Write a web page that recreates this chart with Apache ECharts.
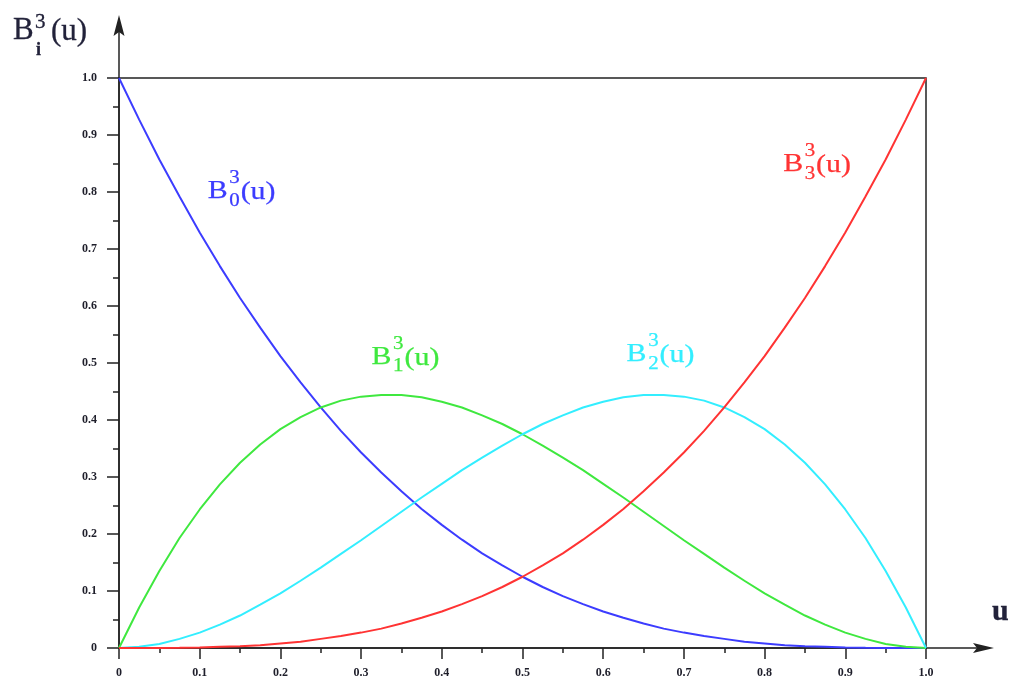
<!DOCTYPE html>
<html><head><meta charset="utf-8">
<script src="https://cdn.jsdelivr.net/npm/echarts@6/dist/echarts.min.js"></script>
<style>html,body{margin:0;padding:0;background:#fff}#c{width:1010px;height:687px}</style>
</head><body><div id="c"></div>
<script>
// ---- data ----
const uValues = [0,0.025,0.05,0.075,0.1,0.125,0.15,0.175,0.2,0.225,0.25,0.275,0.3,0.325,0.35,0.375,0.4,0.425,0.45,0.475,0.5,
                 0.525,0.55,0.575,0.6,0.625,0.65,0.675,0.7,0.725,0.75,0.775,0.8,0.825,0.85,0.875,0.9,0.925,0.95,0.975,1];
const b0 = [1,0.927,0.857,0.792,0.729,0.670,0.614,0.562,0.512,0.466,0.422,0.381,0.343,0.308,0.275,0.244,0.216,0.190,0.166,0.145,0.125,
            0.107,0.091,0.077,0.064,0.053,0.043,0.034,0.027,0.021,0.016,0.011,0.008,0.005,0.003,0.002,0.001,0.0004,0.0001,0,0];
const b1 = [0,0.071,0.135,0.193,0.243,0.287,0.325,0.357,0.384,0.405,0.422,0.434,0.441,0.444,0.444,0.440,0.432,0.422,0.408,0.393,0.375,
            0.355,0.334,0.312,0.288,0.264,0.239,0.214,0.189,0.165,0.141,0.118,0.096,0.076,0.057,0.041,0.027,0.016,0.007,0.002,0];
const b2 = [0,0.002,0.007,0.016,0.027,0.041,0.057,0.076,0.096,0.118,0.141,0.165,0.189,0.214,0.239,0.264,0.288,0.312,0.334,0.355,0.375,
            0.393,0.408,0.422,0.432,0.440,0.444,0.444,0.441,0.434,0.422,0.405,0.384,0.357,0.325,0.287,0.243,0.193,0.135,0.071,0];
const b3 = [0,0,0.0001,0.0004,0.001,0.002,0.003,0.005,0.008,0.011,0.016,0.021,0.027,0.034,0.043,0.053,0.064,0.077,0.091,0.107,0.125,
            0.145,0.166,0.190,0.216,0.244,0.275,0.308,0.343,0.381,0.422,0.466,0.512,0.562,0.614,0.670,0.729,0.792,0.857,0.927,1];
const seriesNames = ['0','1','2','3'];
const seriesColors = ['#3c3cff','#3fe83f','#33eeff','#ff3333'];
const labelPos = [[0.110,0.802],[0.313,0.511],[0.629,0.516],[0.823,0.849]];
const axisTitleY = {base:'B', sup:'3', sub:'i', tail:'(u)'};
const axisTitleX = 'u';

const G = {left:119, right:84, top:78, bottom:39};
const chart = echarts.init(document.getElementById('c'));
const values = [b0,b1,b2,b3];
const fmt = v => v === 0 ? '0' : v.toFixed(1);
const labelFont = {fontFamily:'Liberation Serif', fontWeight:'bold', fontSize:12, color:'#1e1e2a'};

chart.setOption({
  animation:false,
  grid:{left:G.left,right:G.right,top:G.top,bottom:G.bottom,show:true,borderColor:'#222',borderWidth:1.5,backgroundColor:'transparent'},
  xAxis:{type:'value',min:0,max:1,interval:0.1,
    axisLine:{lineStyle:{color:'#222',width:1.5}},
    axisTick:{length:11,lineStyle:{color:'#222',width:1.5}},
    minorTick:{show:true,splitNumber:2,length:5,lineStyle:{color:'#222',width:1.5}},
    splitLine:{show:false},
    axisLabel:Object.assign({margin:19,formatter:fmt},labelFont)},
  yAxis:{type:'value',min:0,max:1,interval:0.1,
    axisLine:{show:true,lineStyle:{color:'#222',width:1.5}},
    axisTick:{show:true,length:12,lineStyle:{color:'#222',width:1.5}},
    minorTick:{show:true,splitNumber:2,length:6,lineStyle:{color:'#222',width:1.5}},
    splitLine:{show:false},
    axisLabel:Object.assign({margin:22,formatter:fmt},labelFont)},
  series: values.map((arr,i)=>({
    type:'line', name:'B'+seriesNames[i], smooth:false, showSymbol:false, z:3,
    data: uValues.map((u,k)=>[u,arr[k]]),
    lineStyle:{color:seriesColors[i],width:2}
  }))
});

function txt(x,y,text,fs,color,extra){
  return {type:'text',x:x,y:y,style:Object.assign({text:text,fontFamily:'Liberation Serif',fontSize:fs,fill:color,
    stroke:color,lineWidth:0.25,verticalAlign:'middle',align:'left'},extra||{})};
}
function bLabel(x,y,sub,color,fs,sx){
  return {type:'group',x:x,y:y,scaleX:sx,children:[
    txt(0,0,'B',fs,color),
    txt(fs*0.72,-fs*0.5,'3',fs*0.7,color),
    txt(fs*0.72,fs*0.38,sub,fs*0.7,color),
    txt(fs*1.1,fs*0.05,'(u)',fs,color)
  ]};
}

const p00 = chart.convertToPixel({gridIndex:0},[0,0]);
const p11 = chart.convertToPixel({gridIndex:0},[1,1]);
const graphics = [];
graphics.push({type:'line',shape:{x1:p00[0],y1:p11[1],x2:p00[0],y2:30},style:{stroke:'#222',lineWidth:1.5}});
graphics.push({type:'polygon',shape:{points:[[p00[0],15],[p00[0]-5.5,36],[p00[0],32],[p00[0]+5.5,36]]},style:{fill:'#222'}});
graphics.push({type:'line',shape:{x1:p11[0],y1:p00[1],x2:985,y2:p00[1]},style:{stroke:'#222',lineWidth:1.5}});
graphics.push({type:'polygon',shape:{points:[[994,p00[1]],[973,p00[1]-5],[977,p00[1]],[973,p00[1]+5]]},style:{fill:'#222'}});
labelPos.forEach((p,i)=>{
  const px = chart.convertToPixel({gridIndex:0},p);
  graphics.push(bLabel(px[0],px[1],seriesNames[i],seriesColors[i],26,1.15));
});
const tc = '#22223a';
graphics.push({type:'group',x:13,y:31,children:[
  txt(0,0,axisTitleY.base,31,tc,{lineWidth:0.3}),
  txt(22,-9,axisTitleY.sup,21,tc,{lineWidth:0.3}),
  txt(23,19,axisTitleY.sub,18,tc,{fontWeight:'bold',lineWidth:0.3}),
  txt(38,1,axisTitleY.tail,31,tc,{lineWidth:0.3})
]});
graphics.push(txt(992,612,axisTitleX,30,tc,{fontWeight:'bold',lineWidth:0.3}));
chart.setOption({graphic:graphics});
</script></body></html>
